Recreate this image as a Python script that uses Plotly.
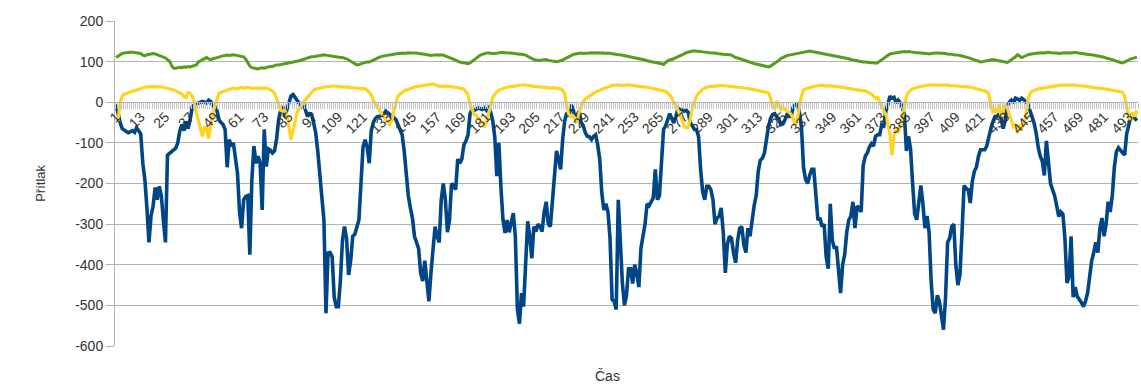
import plotly.graph_objects as go

# Pressure readings over time (one sample per time step)
blue_vals = [
    -5, -30, -50, -65, -70, -72, -75, -72, -70, -74,
    -63, -70, -78, -150, -190, -260, -345, -280, -256, -210,
    -240, -207, -230, -290, -345, -130, -125, -120, -117, -113,
    -100, -70, -55, -70, -47, -65, -43, -12, -6, -3,
    -2, 0, 2, 0, -2, 5, 2, -8, -10, -20,
    -43, -50, -55, -67, -160, -92, -108, -100, -140, -174,
    -270, -310, -240, -232, -230, -375, -190, -108, -150, -133,
    -150, -265, -67, -158, -115, -118, -125, -120, -90, -43,
    -20, -10, -35, -20, -5, 15, 19, 11, 5, -2,
    -10, -2, -20, -35, -28, -30, -51, -75, -120, -180,
    -240, -290, -519, -371, -370, -380, -480, -503, -503, -440,
    -340, -306, -335, -425, -390, -330, -325, -310, -290, -200,
    -110, -92, -110, -150, -70, -50, -40, -35, -35, -32,
    -30, -22, -26, -30, -32, -38, -43, -55, -67, -80,
    -120, -190, -230, -260, -285, -330, -345, -360, -420, -440,
    -390, -454, -490, -420, -370, -306, -330, -345, -240, -200,
    -240, -320, -290, -200, -205, -215, -140, -150, -140, -105,
    -95, -80, -28, -18, -20, -18, -14, -16, -18, -14,
    -20, -14, -25, -45, -85, -182, -100, -210, -290, -322,
    -290, -320, -290, -273, -330, -510, -545, -470, -503, -390,
    -293, -330, -384, -306, -318, -300, -306, -318, -270, -245,
    -300, -306, -240, -175, -120, -140, -165, -90, -45, -26,
    -35, -6, -15, -40, -30, -22, -50, -58, -75, -84,
    -85, -92, -84, -80, -105, -140, -223, -265, -250, -270,
    -335, -486, -490, -510, -240, -363, -445, -500, -475, -410,
    -410, -446, -400, -421, -455, -360, -335, -300, -250, -255,
    -245, -235, -165, -240, -230, -140, -67, -58, -40, -28,
    -40, -51, -35, -15, -18, -18, -22, -20, -25, -51,
    -58, -67, -67, -84, -165, -220, -240, -207, -207, -215,
    -240, -300, -285, -281, -260, -320, -420, -350, -330, -335,
    -371, -395, -340, -310, -306, -350, -370, -310, -330, -285,
    -255, -230, -170, -143, -138, -125, -88, -59, -40, -30,
    -28, -35, -43, -55, -53, -43, -30, -35, -35, -12,
    -6, -4, -25, -60, -160, -190, -200, -180, -165, -165,
    -240, -290, -285, -306, -300, -380, -410, -250, -340, -360,
    -355, -404, -470, -400, -375, -320, -290, -280, -245, -310,
    -256, -260, -270, -155, -133, -125, -110, -102, -108, -84,
    -80, -80, -55, -58, -22, -5, 15, 10, 12, -2,
    5, -2, -12, -30, -120, -84, -115, -200, -275, -289,
    -245, -205, -250, -310, -280, -320, -440, -510, -519, -475,
    -490, -530, -560, -480, -345, -335, -306, -300, -400, -450,
    -425, -320, -205, -212, -215, -248, -195, -170, -160, -133,
    -117, -117, -117, -108, -84, -65, -48, -35, -35, -28,
    -40, -65, -45, -8, 0, 5, -2, 10, 8, 5,
    10, 6, 2, -5, -18, -35, -51, -75, -110, -133,
    -145, -180, -95, -160, -200, -215, -230, -255, -281, -270,
    -275, -335, -445, -430, -330, -480, -455, -478, -485, -493,
    -503, -490, -470, -430, -390, -370, -345, -370, -310, -285,
    -330, -300, -245, -270, -230, -160, -122, -112, -117, -125,
    -130, -78, -51, -35, -28, -40, -45,
]

yellow_vals = [
    -40, -45, 0, 15, 20, 22, 24, 25, 27, 28,
    30, 32, 34, 36, 37, 38, 38, 39, 39, 38,
    39, 38, 38, 37, 36, 35, 33, 32, 30, 28,
    26, 24, 20, 14, 12, 24, 22, 15, 0, -25,
    -45, -70, -84, -60, -65, -90, -50, -25, -10, 10,
    22, 24, 27, 28, 30, 32, 33, 35, 34, 33,
    35, 37, 35, 36, 37, 35, 34, 35, 36, 35,
    34, 35, 34, 35, 33, 30, 28, 22, 10, -5,
    -20, -22, -20, -30, -60, -92, -70, -50, -25, -15,
    -10, 0, 5, 12, 18, 25, 30, 32, 34, 35,
    36, 37, 38, 38, 39, 40, 40, 39, 39, 38,
    38, 37, 38, 37, 36, 36, 35, 35, 34, 33,
    34, 33, 30, 25, 18, 5, -5, -12, -20, -28,
    -35, -42, -50, -55, -45, -20, 0, 15, 20, 25,
    28, 30, 32, 34, 36, 38, 39, 39, 40, 40,
    42, 43, 43, 44, 45, 43, 40, 39, 40, 40,
    40, 39, 39, 38, 38, 37, 36, 35, 34, 32,
    26, 18, -6, -20, -30, -32, -38, -45, -55, -59,
    -45, -30, -10, 12, 20, 25, 30, 32, 35, 36,
    37, 38, 39, 40, 40, 41, 42, 43, 43, 42,
    41, 40, 39, 40, 39, 38, 38, 37, 36, 37,
    36, 35, 36, 35, 34, 34, 33, 30, 20, -10,
    -30, -35, -33, -40, -51, -25, -12, 2, 8, 12,
    15, 18, 22, 25, 28, 30, 32, 34, 36, 39,
    40, 41, 42, 42, 43, 42, 41, 42, 43, 43,
    42, 41, 40, 40, 39, 39, 38, 38, 37, 37,
    36, 35, 33, 32, 31, 30, 28, 26, 22, 18,
    10, 0, -10, -20, -30, -45, -59, -63, -62, -40,
    -15, 0, 15, 22, 28, 32, 35, 37, 38, 39,
    39, 40, 40, 41, 41, 41, 40, 40, 39, 39,
    38, 38, 37, 37, 36, 35, 35, 34, 33, 32,
    31, 30, 29, 28, 27, 26, 25, 23, 10, -10,
    -15, 3, -6, -18, -12, -18, -22, -25, -30, -40,
    -55, -40, -10, 15, 31, 33, 35, 36, 38, 39,
    40, 41, 41, 42, 41, 40, 41, 40, 40, 39,
    39, 38, 38, 37, 36, 35, 35, 34, 33, 32,
    31, 30, 29, 28, 28, 26, 24, 20, 15, 10,
    12, 0, -15, -22, -30, -51, -80, -130, -80, -65,
    -75, -60, -40, -10, 15, 25, 30, 33, 35, 37,
    38, 39, 40, 41, 42, 43, 43, 42, 42, 43,
    43, 43, 43, 42, 42, 41, 41, 41, 40, 40,
    39, 39, 39, 38, 38, 37, 36, 35, 34, 33,
    32, 30, 28, 26, 20, -5, -26, -15, -26, -5,
    -35, -20, -5, -15, -30, -40, -60, -55, -76, -55,
    -67, -50, -35, 5, 22, 27, 30, 31, 33, 34,
    35, 36, 37, 38, 38, 39, 40, 40, 41, 42,
    42, 42, 43, 43, 43, 42, 42, 41, 41, 40,
    40, 39, 38, 38, 37, 37, 36, 35, 34, 34,
    33, 32, 32, 31, 30, 30, 29, 28, 27, 25,
    15, -10, -35, -45, -25, -35, -20,
]

green_vals = [
    110, 114, 118, 120, 121, 122, 122, 123, 123, 122,
    122, 121, 120, 116, 114, 117, 118, 119, 120, 119,
    117, 115, 113, 111, 109, 105, 101, 90, 84, 84,
    85, 86, 85, 87, 86, 88, 87, 89, 90, 92,
    99, 102, 106, 108, 110, 107, 105, 107, 108, 110,
    111, 113, 114, 115, 116, 115, 116, 117, 116, 115,
    114, 114, 112, 106, 98, 89, 85, 84, 83, 82,
    84, 85, 84, 86, 87, 88, 88, 90, 92, 92,
    93, 94, 95, 95, 96, 97, 98, 100, 101, 102,
    104, 105, 107, 109, 111, 112, 112, 113, 113, 114,
    116, 117, 116, 115, 114, 113, 112, 112, 111, 110,
    110, 109, 107, 104, 101, 98, 95, 92, 93, 95,
    97, 98, 99, 99, 101, 104, 106, 109, 111, 113,
    114, 115, 116, 117, 118, 118, 119, 120, 120, 121,
    120, 121, 122, 121, 121, 122, 121, 120, 120, 119,
    118, 117, 116, 115, 116, 117, 117, 116, 117, 116,
    114, 112, 110, 109, 107, 104, 101, 99, 97, 97,
    96, 95, 97, 101, 105, 109, 113, 116, 118, 120,
    121, 121, 120, 120, 120, 121, 122, 123, 123, 122,
    121, 121, 121, 120, 120, 119, 118, 118, 117, 116,
    113, 110, 107, 105, 104, 103, 103, 104, 104, 105,
    103, 102, 101, 101, 100, 101, 102, 104, 107, 110,
    113, 115, 117, 119, 120, 121, 121, 120, 120, 121,
    121, 122, 121, 121, 122, 121, 121, 121, 120, 121,
    120, 120, 119, 118, 117, 117, 116, 115, 114, 113,
    112, 111, 110, 109, 108, 106, 105, 104, 102, 101,
    101, 100, 99, 98, 97, 95, 93, 98, 102, 104,
    105, 107, 110, 112, 114, 117, 119, 122, 124, 125,
    126, 126, 126, 126, 125, 124, 124, 123, 122, 122,
    121, 121, 120, 120, 119, 118, 118, 117, 117, 116,
    112, 110, 109, 107, 106, 104, 102, 100, 98, 97,
    95, 94, 93, 92, 91, 90, 88, 87, 89, 92,
    95, 98, 103, 108, 111, 113, 115, 116, 117, 119,
    120, 121, 122, 123, 124, 125, 126, 126, 125, 124,
    123, 123, 122, 121, 120, 119, 118, 116, 115, 114,
    113, 112, 111, 110, 109, 108, 107, 105, 104, 102,
    101, 100, 100, 99, 99, 98, 98, 97, 97, 96,
    97, 100, 104, 108, 112, 116, 119, 120, 121, 122,
    123, 124, 125, 125, 124, 125, 124, 123, 123, 122,
    122, 121, 121, 120, 120, 119, 120, 121, 121, 121,
    121, 120, 120, 120, 119, 119, 118, 117, 117, 116,
    115, 114, 113, 112, 110, 108, 106, 104, 102, 100,
    99, 100, 101, 102, 103, 104, 105, 104, 103, 102,
    101, 100, 99, 98, 101, 104, 108, 112, 117, 113,
    110, 112, 115, 117, 118, 119, 120, 121, 121, 121,
    122, 121, 122, 123, 122, 122, 121, 121, 120, 121,
    121, 122, 121, 122, 121, 122, 123, 122, 121, 120,
    119, 118, 118, 117, 117, 116, 116, 115, 114, 112,
    111, 109, 108, 106, 105, 103, 101, 99, 98, 97,
    99, 101, 104, 107, 108, 109, 111,
]

time_steps = list(range(1, len(blue_vals) + 1))
tick_steps = list(range(1, len(blue_vals) + 1, 12))
y_ticks = list(range(-600, 201, 100))
y_tick_text = [str(v) for v in y_ticks]  # plain hyphen-minus labels

GRID = "#b3b3b3"
TEXT = "#333333"
FONT = "Liberation Sans, Arial, sans-serif"

fig = go.Figure()
for vals, color, width in [(blue_vals, "#004586", 3.6),
                           (yellow_vals, "#ffd320", 3.2),
                           (green_vals, "#579d1c", 3.0)]:
    fig.add_trace(go.Scatter(
        x=time_steps, y=vals, mode="lines",
        line=dict(color=color, width=width), showlegend=False, hoverinfo="skip",
    ))

n = len(time_steps)
fig.update_layout(
    width=1141, height=388,
    margin=dict(l=115, r=3, t=21, b=42),
    paper_bgcolor="white", plot_bgcolor="white",
    font=dict(family=FONT, size=14, color=TEXT),
    xaxis=dict(
        range=[0.5, n + 0.5],
        anchor="free", position=0.75,
        tickmode="array", tickvals=tick_steps, ticktext=[str(t) for t in tick_steps],
        tickangle=-45, ticks="", showgrid=False, zeroline=False,
        showline=True, linecolor=GRID, linewidth=1,
        tickfont=dict(family=FONT, size=14, color=TEXT),
        minor=dict(tick0=0.5, dtick=1, ticks="outside", ticklen=6,
                   tickcolor="#c4c4c4", tickwidth=1, showgrid=False),
    ),
    yaxis=dict(
        range=[-600, 200], tickmode="array", tickvals=y_ticks, ticktext=y_tick_text,
        showgrid=True, gridcolor=GRID, gridwidth=1, zeroline=False,
        showline=True, linecolor=GRID, linewidth=1,
        ticks="outside", ticklen=8, tickcolor=GRID,
        tickfont=dict(family=FONT, size=14, color=TEXT),
    ),
    annotations=[
        dict(text="Přítlak", xref="paper", yref="paper", x=-0.073, y=0.5,
             xanchor="center", yanchor="middle", textangle=-90, showarrow=False,
             font=dict(family=FONT, size=13, color=TEXT)),
        dict(text="Čas", xref="paper", yref="paper", x=0.481, y=-0.093,
             xanchor="center", yanchor="middle", showarrow=False,
             font=dict(family=FONT, size=14, color=TEXT)),
    ],
)

fig.write_html("out.html")
